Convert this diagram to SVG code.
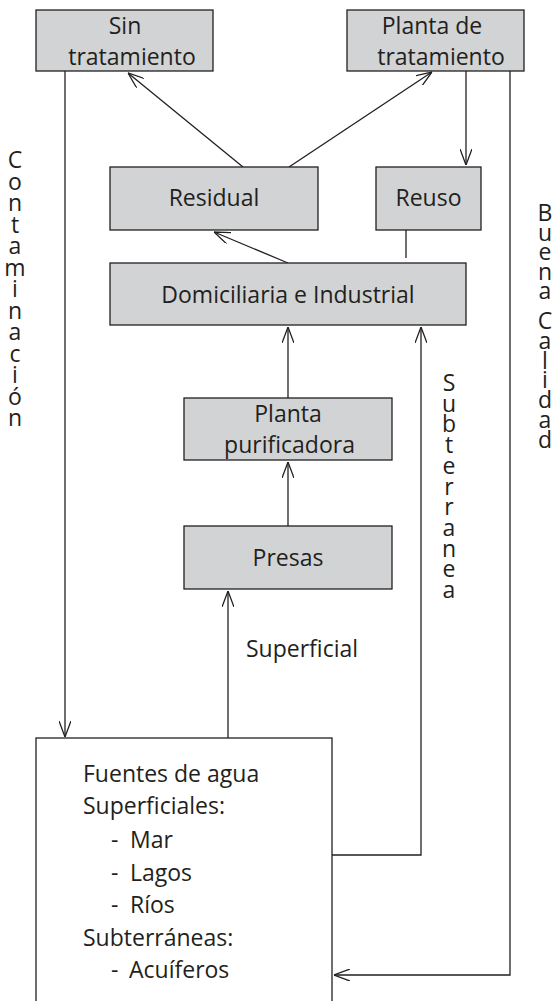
<svg xmlns="http://www.w3.org/2000/svg" width="553" height="1001" viewBox="0 0 553 1001">
<style>
.box{fill:#d1d3d4;stroke:#231f20;stroke-width:1.3}
.wbox{fill:#ffffff;stroke:#231f20;stroke-width:1.3}
.ln{fill:none;stroke:#231f20;stroke-width:1.3}
text{font-family:"Open Sans","Noto Sans",sans-serif;font-size:23px;fill:#231f20}
.c{text-anchor:middle}
.v{font-size:22px}
</style>
<defs>
<marker id="arr" viewBox="0 0 16 12" refX="16" refY="6" markerWidth="16" markerHeight="12" markerUnits="userSpaceOnUse" orient="auto">
<path d="M0,0 L16,6 L0,12" fill="none" stroke="#231f20" stroke-width="1.3"/>
</marker>
</defs>
<rect width="553" height="1001" fill="#ffffff"/>
<g id="connectors">
<path class="ln" d="M65,71 V737" marker-end="url(#arr)"/>
<path class="ln" d="M243,167 L128,73" marker-end="url(#arr)"/>
<path class="ln" d="M289,167 L432,72" marker-end="url(#arr)"/>
<path class="ln" d="M466,71 V165" marker-end="url(#arr)"/>
<path class="ln" d="M510,71 V975 H334" marker-end="url(#arr)"/>
<path class="ln" d="M288,263 L214,232" marker-end="url(#arr)"/>
<path class="ln" d="M406,230 V258"/>
<path class="ln" d="M288,398 V327" marker-end="url(#arr)"/>
<path class="ln" d="M288,526 V462" marker-end="url(#arr)"/>
<path class="ln" d="M228,738 V591" marker-end="url(#arr)"/>
<path class="ln" d="M332,855 H421 V327" marker-end="url(#arr)"/>
</g>
<g id="sin">
<rect class="box" x="36" y="10" width="177" height="61"/>
<text class="c" x="125" y="34">Sin</text>
<text class="c" x="132" y="65">tratamiento</text>
</g>
<g id="planta-tratamiento">
<rect class="box" x="347" y="10" width="177" height="61"/>
<text class="c" x="432" y="34">Planta de</text>
<text class="c" x="441" y="65">tratamiento</text>
</g>
<g id="residual">
<rect class="box" x="110" y="167" width="208" height="63"/>
<text class="c" x="214" y="206">Residual</text>
</g>
<g id="reuso">
<rect class="box" x="376" y="167" width="105" height="63"/>
<text class="c" x="428.5" y="206">Reuso</text>
</g>
<g id="domiciliaria">
<rect class="box" x="110" y="263" width="356" height="62"/>
<text class="c" x="288" y="303">Domiciliaria e Industrial</text>
</g>
<g id="purificadora">
<rect class="box" x="184" y="398" width="208" height="62"/>
<text class="c" x="288" y="422">Planta</text>
<text class="c" x="289.5" y="453">purificadora</text>
</g>
<g id="presas">
<rect class="box" x="184" y="526" width="208" height="63"/>
<text class="c" x="288" y="566">Presas</text>
</g>
<g id="fuentes">
<rect class="wbox" x="36" y="738" width="296" height="275"/>
<text x="83" y="782">Fuentes de agua</text>
<text x="83" y="814">Superficiales:</text>
<text x="111" y="848">-</text><text x="130" y="848">Mar</text>
<text x="111" y="881">-</text><text x="130" y="881">Lagos</text>
<text x="111" y="913">-</text><text x="130" y="913">Ríos</text>
<text x="83" y="946">Subterráneas:</text>
<text x="111" y="978">-</text><text x="129" y="978">Acuíferos</text>
</g>
<g id="labels">
<text x="246" y="657">Superficial</text>
<g class="c v">
<text x="15" y="168">C</text>
<text x="15" y="189.5">o</text>
<text x="15" y="211">n</text>
<text x="15" y="232.5">t</text>
<text x="15" y="254">a</text>
<text x="15" y="275.5">m</text>
<text x="15" y="297">i</text>
<text x="15" y="318.5">n</text>
<text x="15" y="340">a</text>
<text x="15" y="361.5">c</text>
<text x="15" y="383">i</text>
<text x="15" y="404.5">ó</text>
<text x="15" y="426">n</text>
</g>
<g class="c v">
<text x="449" y="391">S</text>
<text x="449" y="411.7">u</text>
<text x="449" y="432.4">b</text>
<text x="449" y="453.1">t</text>
<text x="449" y="473.8">e</text>
<text x="449" y="494.5">r</text>
<text x="449" y="515.2">r</text>
<text x="449" y="535.9">a</text>
<text x="449" y="556.6">n</text>
<text x="449" y="577.3">e</text>
<text x="449" y="598">a</text>
</g>
<g class="c v">
<text x="545" y="221">B</text>
<text x="545" y="240.5">u</text>
<text x="545" y="260">e</text>
<text x="545" y="279.5">n</text>
<text x="545" y="299">a</text>
<text x="545" y="329">C</text>
<text x="545" y="348.8">a</text>
<text x="545" y="368.6">l</text>
<text x="545" y="388.4">i</text>
<text x="545" y="408.2">d</text>
<text x="545" y="428">a</text>
<text x="545" y="447.8">d</text>
</g>
</g>
</svg>
